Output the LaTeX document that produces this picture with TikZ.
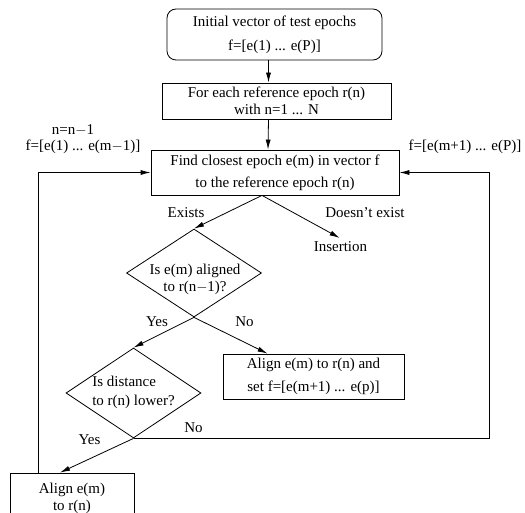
\documentclass[tikz,border=0pt]{standalone}
\usepackage{fontspec}
\setmainfont{Liberation Serif}
\usetikzlibrary{shapes,shapes.geometric,calc,positioning,arrows.meta}
\begin{document}
\begin{tikzpicture}[
	%	style def
    x=1pt, y=-1pt,
    flow line/.style={line width=0.8pt},
    flow arrow/.style={flow line, -{Latex[length=10pt,width=5pt]}},
    box/.style={draw, flow line, rectangle, align=center, inner sep=0pt},
    decision/.style={draw, flow line, diamond, inner sep=0pt},
    every node/.style={color=black, font=\fontsize{15}{17}\selectfont}
    ]
    \useasboundingbox (0,0) rectangle (525,513);
    \clip (0,0) rectangle (525,513);

	% main boxes
    \node[box, rounded corners=9pt, minimum width=215pt, minimum height=51pt] (init) at (274.5,34.5) {Initial vector of test epochs\\[7pt] f=[e(1) ... e(P)]};
    \node[box, minimum width=229pt, minimum height=36pt] (foreach) at (276.5,101) {For each reference epoch r(n)\\ with n=1 ... N};
    \node[box, minimum width=248pt, minimum height=45pt] (find) at (275,172.5) {Find closest epoch e(m) in vector f\\[5pt] to the reference epoch r(n)};
    \node[box, minimum width=181pt, minimum height=45pt] (align) at (313.5,376.5) {Align e(m) to r(n) and\\[6pt] set f=[e(m+1) ... e(p)]};
    \node[box, minimum width=124pt, minimum height=50pt] (last) at (72,498) {Align e(m)\\ to r(n)};

	% decisions
    \node[decision, minimum width=135pt, minimum height=88pt] (d1) at (194,273) {};
    \node[align=center] (d1txt) at (195,279) {Is e(m) aligned\\ to r(n$-$1)?};
    \node[decision, minimum width=135pt, minimum height=90pt] (d2) at (133.5,393) {};
    \node[align=left] (d2txt) at (133.5,392.5) {Is distance\\[2pt] to r(n) lower?};

	% loose texts
    \node (nlab) at (73,130) {n=n$-$1};
    \node (fleft) at (83,147) {f=[e(1) ... e(m$-$1)]};
    \node (fright) at (465,147) {f=[e(m+1) ... e(P)]};
    \node (ins) at (340.5,247) {Insertion};
    \node (exists) at (186,213) {Exists};
    \node (notexists) at (365,213) {Doesn't exist};
    \node (yes1) at (157,322) {Yes};
    \node (no1) at (244.5,322) {No};
    \node (no2) at (193.5,428) {No};
    \node (yes2) at (89.5,440) {Yes};

	% connections
    \coordinate (fork) at ([xshift=-13pt]find.south);
    \draw[flow arrow] ([xshift=-6pt]init.south) -- ([xshift=-8pt]foreach.north);
    \draw[flow arrow] ([xshift=-8pt]foreach.south) -- ([xshift=-7pt]find.north);
    \draw[flow arrow] (fork) -- (d1.north);
    \draw[flow arrow, shorten >=1pt] (fork) -- (ins.north);
    \draw[flow arrow] (d1.south) -- (d2.north);
    \draw[flow arrow] (d1.south) -- ([xshift=-46pt]align.north);
    \draw[flow arrow] (d2.south) -- ([xshift=-12pt]last.north);
    % loops back
    \draw[flow arrow] ([xshift=-34pt]last.north) |- (find.west);
    \draw[flow arrow] (d2.south) -- ++(356,0) |- (find.east);
\end{tikzpicture}
\end{document}
